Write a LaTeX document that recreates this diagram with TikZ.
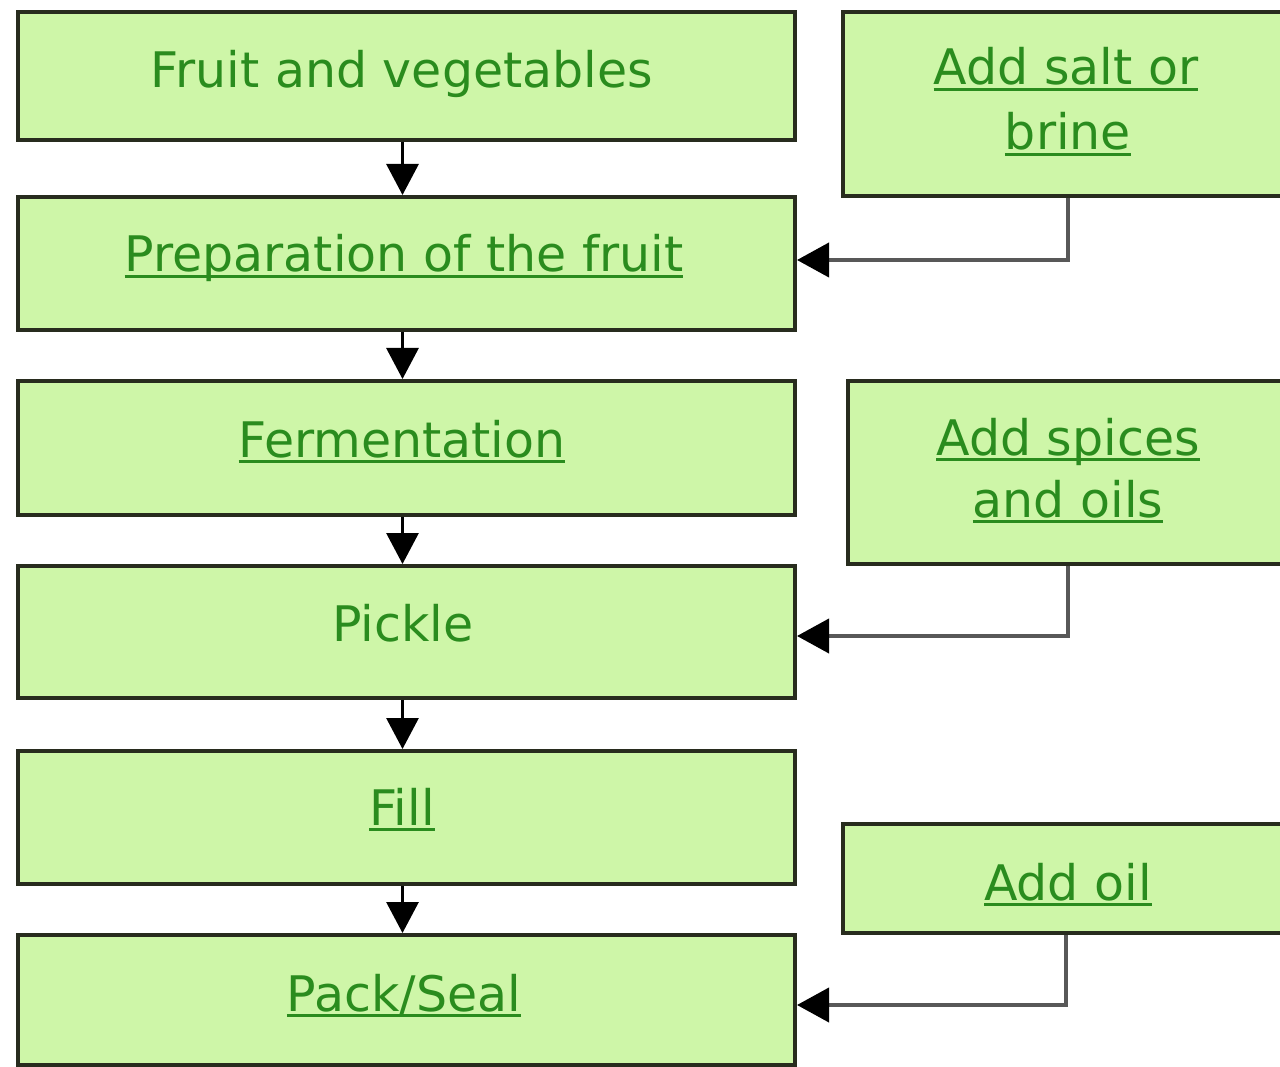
\documentclass[tikz,border=0pt]{standalone}
\usepackage{fontspec}
\setmainfont{DejaVu Sans}
\usetikzlibrary{arrows.meta}
\definecolor{boxfill}{RGB}{206,246,168}
\definecolor{boxline}{RGB}{40,44,30}
\definecolor{txtgreen}{RGB}{42,140,30}
\definecolor{linkgray}{RGB}{88,88,88}
\newsavebox\ulbox
\newcommand\ulin[1]{\sbox\ulbox{#1}\rlap{\rule[-0.13em]{\wd\ulbox}{0.065em}}\usebox\ulbox}
\begin{document}
\begin{tikzpicture}[x=1pt,y=-1pt,
  stepbox/.style={draw=boxline,fill=boxfill,line width=4pt,rectangle,inner sep=0pt},
  lbl/.style={anchor=base,inner sep=0pt,text=txtgreen,font=\fontsize{49}{58}\selectfont},
  downarr/.style={draw=black,line width=3pt,-{Triangle[length=31pt,width=32pt]}},
  sideln/.style={draw=linkgray,line width=4pt,-{Triangle[length=32pt,width=34pt,color=black]}}]
\useasboundingbox (0,0) rectangle (1280,1067);
\fill[white] (0,0) rectangle (1280,1067);
% left column
\node[stepbox,minimum width=777pt,minimum height=128pt] (f1) at (406.5,76) {};
\node[stepbox,minimum width=777pt,minimum height=133pt] (f2) at (406.5,263.5) {};
\node[stepbox,minimum width=777pt,minimum height=134pt] (f3) at (406.5,448) {};
\node[stepbox,minimum width=777pt,minimum height=132pt] (f4) at (406.5,632) {};
\node[stepbox,minimum width=777pt,minimum height=133pt] (f5) at (406.5,817.5) {};
\node[stepbox,minimum width=777pt,minimum height=130pt] (f6) at (406.5,1000) {};
% right column
\node[stepbox,minimum width=447pt,minimum height=184pt] (a1) at (1066.5,104) {};
\node[stepbox,minimum width=442pt,minimum height=183pt] (a2) at (1069,472.5) {};
\node[stepbox,minimum width=447pt,minimum height=109pt] (a3) at (1066.5,878.5) {};
% labels
\node[lbl] (t1) at (402,88) {Fruit and vegetables};
\node[lbl] (t2) at (404,272) {\ulin{Preparation of the fruit}};
\node[lbl] (t3) at (402,457) {\ulin{Fermentation}};
\node[lbl] (t4) at (403,641) {Pickle};
\node[lbl] (t5) at (402,825) {\ulin{Fill}};
\node[lbl] (t6) at (404,1011) {\ulin{Pack/Seal}};
\node[lbl] (t7a) at (1066,85) {\ulin{Add salt or}};
\node[lbl] (t7b) at (1068,150) {\ulin{brine}};
\node[lbl] (t8a) at (1068,455) {\ulin{Add spices}};
\node[lbl] (t8b) at (1068,517) {\ulin{and oils}};
\node[lbl] (t9) at (1068,900) {\ulin{Add oil}};
% down arrows
\draw[downarr] ([xshift=-4pt]f1.south) -- ([xshift=-4pt]f2.north);
\draw[downarr] ([xshift=-4pt]f2.south) -- ([xshift=-4pt]f3.north);
\draw[downarr] ([xshift=-4pt]f3.south) -- ([xshift=-4pt]f4.north);
\draw[downarr] ([xshift=-4pt]f4.south) -- ([xshift=-4pt]f5.north);
\draw[downarr] ([xshift=-4pt]f5.south) -- ([xshift=-4pt]f6.north);
% side connectors
\draw[sideln] ([xshift=1.5pt]a1.south) |- ([yshift=3.5pt]f2.east);
\draw[sideln] ([xshift=-1pt]a2.south) |- ([yshift=-4pt]f4.east);
\draw[sideln] ([xshift=-0.5pt]a3.south) |- ([yshift=-5pt]f6.east);
\end{tikzpicture}
\end{document}
